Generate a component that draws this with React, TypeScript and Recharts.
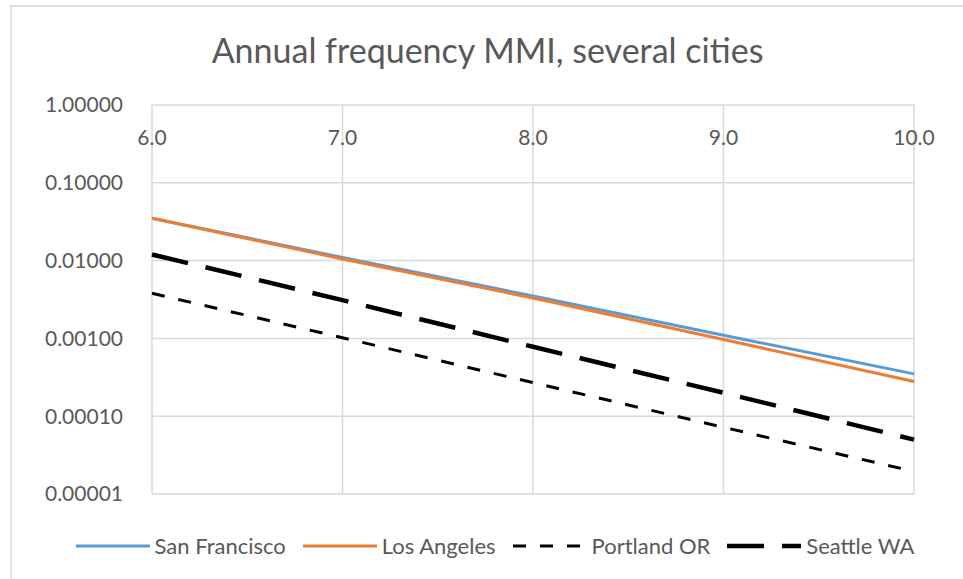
import { LineChart, Line, XAxis, YAxis, CartesianGrid } from 'recharts';

// Modified Mercalli intensity levels
const mmi = [6, 7, 8, 9, 10];

// Annual frequency of exceedance per city
const sanFrancisco = [0.035, 0.011, 0.0035, 0.0011, 0.00035];
const losAngeles = [0.035, 0.0105, 0.0033, 0.00097, 0.00028];
const portland = [0.0038, 0.00102, 0.00027, 0.000072, 0.0000195];
const seattle = [0.012, 0.0031, 0.00078, 0.0002, 0.00005];

const xTicks = [6, 7, 8, 9, 10];
const yTicks = [1, 0.1, 0.01, 0.001, 0.0001, 0.00001];

const data = mmi.map((m, i) => ({
  mmi: m,
  sf: sanFrancisco[i],
  la: losAngeles[i],
  portland: portland[i],
  seattle: seattle[i],
}));

const FONT = 'Lato, "Open Sans", sans-serif';
const TEXT = '#595959';
const GRID = '#d9d9d9';
const PLOT_TOP = 105;
const LABEL_SIZE = 21;

const series = [
  { key: 'sf', name: 'San Francisco', color: '#5b9bd5', width: 3, dash: undefined },
  { key: 'la', name: 'Los Angeles', color: '#ed7d31', width: 3, dash: undefined },
  { key: 'portland', name: 'Portland OR', color: '#000000', width: 3, dash: '13 14' },
  { key: 'seattle', name: 'Seattle WA', color: '#000000', width: 4.5, dash: '37 18' },
];

function TopTick(props: any) {
  const { x, payload } = props;
  return (
    <text
      x={x}
      y={PLOT_TOP + 40}
      textAnchor="middle"
      fill={TEXT}
      fontSize={LABEL_SIZE}
      fontFamily={FONT}
    >
      {Number(payload.value).toFixed(1)}
    </text>
  );
}

function LegendRow() {
  return (
    <div
      style={{
        position: 'absolute',
        left: 13,
        top: 533,
        width: 963,
        display: 'flex',
        justifyContent: 'center',
        gap: 16,
        fontFamily: FONT,
        fontSize: 22,
        color: TEXT,
        lineHeight: '26px',
      }}
    >
      {series.map((s) => (
        <div key={s.key} style={{ display: 'flex', alignItems: 'center' }}>
          <svg width={76} height={26} style={{ marginRight: 4 }}>
            <line
              x1={1}
              y1={13}
              x2={75}
              y2={13}
              stroke={s.color}
              strokeWidth={s.width}
              strokeDasharray={s.dash}
            />
          </svg>
          <span>{s.name}</span>
        </div>
      ))}
    </div>
  );
}

export default function App() {
  return (
    <div
      style={{
        position: 'absolute',
        left: 0,
        top: 0,
        width: 963,
        height: 579,
        background: '#fff',
        overflow: 'hidden',
      }}
    >
      <div
        style={{
          position: 'absolute',
          left: 10,
          top: 5,
          width: 980,
          height: 600,
          border: '2px solid #e2e2e2',
          boxSizing: 'border-box',
        }}
      />
      <div
        style={{
          position: 'absolute',
          left: 6,
          top: 29,
          width: 963,
          textAlign: 'center',
          fontFamily: FONT,
          fontSize: 34,
          lineHeight: '42px',
          color: TEXT,
        }}
      >
        Annual frequency MMI, several cities
      </div>
      <div style={{ position: 'absolute', left: 0, top: 0 }}>
        <LineChart
          width={963}
          height={579}
          data={data}
          margin={{ top: PLOT_TOP - 1, right: 49, bottom: 85, left: 0 }}
        >
          <CartesianGrid stroke={GRID} strokeWidth={1.5} vertical horizontal />
          <XAxis
            dataKey="mmi"
            type="number"
            orientation="top"
            domain={[6, 10]}
            ticks={xTicks}
            height={1}
            axisLine={false}
            tickLine={false}
            tick={(p: any) => <TopTick {...p} />}
            interval={0}
          />
          <YAxis
            type="number"
            scale="log"
            domain={[0.00001, 1]}
            ticks={yTicks}
            allowDataOverflow
            width={152}
            axisLine={false}
            tickLine={false}
            tickSize={0}
            tickMargin={29}
            interval={0}
            tickFormatter={(v: number) => v.toFixed(5)}
            tick={{ fill: TEXT, fontSize: LABEL_SIZE, fontFamily: FONT }}
          />
          {series.map((s) => (
            <Line
              key={s.key}
              type="linear"
              dataKey={s.key}
              name={s.name}
              stroke={s.color}
              strokeWidth={s.width}
              strokeDasharray={s.dash}
              dot={false}
              activeDot={false}
              isAnimationActive={false}
            />
          ))}
        </LineChart>
      </div>
      <LegendRow />
    </div>
  );
}
